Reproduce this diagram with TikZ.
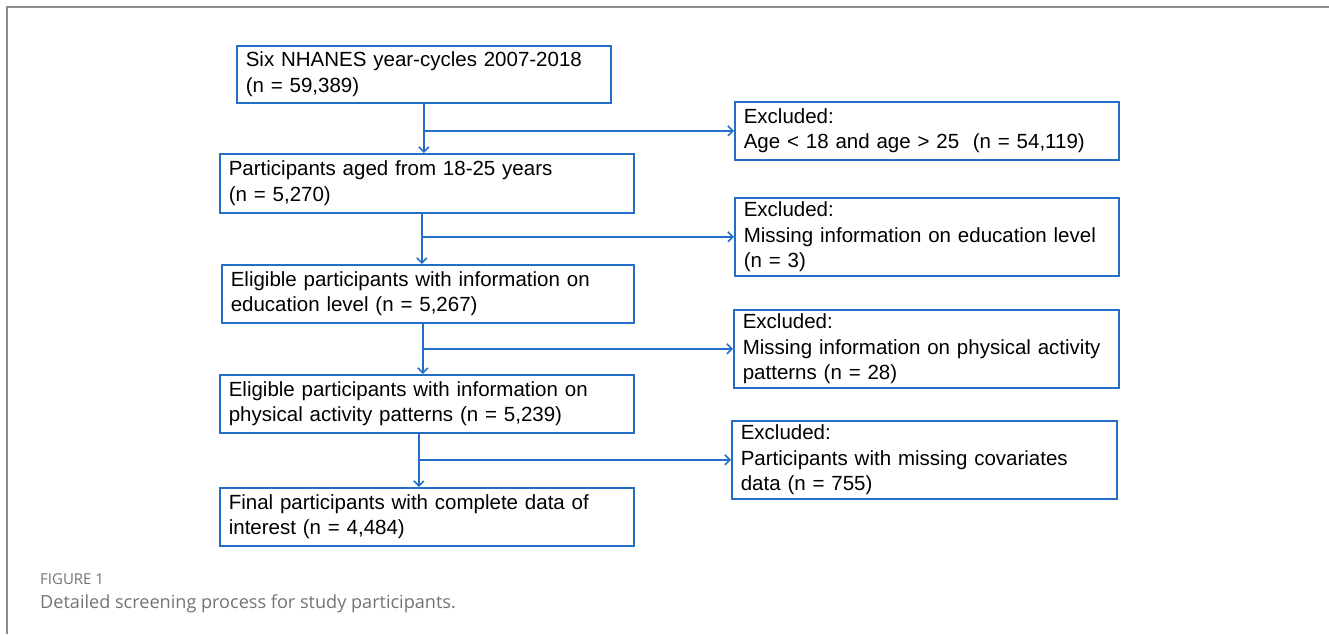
\documentclass[tikz,border=0pt]{standalone}
\usepackage{fontspec}
\setmainfont{Liberation Sans}
\newfontfamily\capfont{Open Sans}
\usepackage{tikz}
\usetikzlibrary{arrows.meta, positioning, calc}
\definecolor{FlowBlue}{RGB}{36, 110, 200}
\definecolor{FrameGray}{RGB}{140, 140, 140}
\definecolor{CapGray}{RGB}{115, 115, 115}
\tikzset{
    stage/.style={rectangle, draw=FlowBlue, line width=1.6pt, fill=white, anchor=north west, align=left,
        inner xsep=9pt, inner ysep=0pt, font=\fontsize{20.5}{25.5}\selectfont},
    arrow/.style={-{Straight Barb[length=5pt, width=10pt]}, line width=1.6pt, color=FlowBlue},
    joint/.style={line width=1.6pt, color=FlowBlue}
}

\begin{document}
\begin{tikzpicture}[x=1pt, y=-1pt]
            \useasboundingbox (0,0) rectangle (1329,634);
            \draw[FrameGray, line width=2pt] (7,634) -- (7,7) -- (1329,7);

            % main column
            \node[stage, text width=356pt, minimum height=57pt] (src) at (236,45) {Six NHANES year-cycles 2007-2018\\(n = 59,389)};
            \node[stage, text width=396pt, minimum height=59pt] (age) at (219,153) {Participants aged from 18-25 years\\(n = 5,270)};
            \node[stage, text width=394pt, minimum height=58pt] (edu) at (221,264) {Eligible participants with information on\\education level (n = 5,267)};
            \node[stage, text width=396pt, minimum height=58pt] (pa) at (219,374) {Eligible participants with information on\\physical activity patterns (n = 5,239)};
            \node[stage, text width=396pt, minimum height=58pt] (final) at (219,487) {Final participants with complete data of\\interest (n = 4,484)};

            % exclusions
            \node[stage, text width=366pt, minimum height=58pt] (exage) at (734,101) {Excluded:\\Age < 18 and age > 25~~(n = 54,119)};
            \node[stage, text width=366pt, minimum height=78pt] (exedu) at (734,197) {Excluded:\\Missing information on education level\\(n = 3)};
            \node[stage, text width=367pt, minimum height=78pt] (expa) at (733,309) {Excluded:\\Missing information on physical activity\\patterns (n = 28)};
            \node[stage, text width=367pt, minimum height=78pt] (excov) at (731,420) {Excluded:\\Participants with missing covariates\\data (n = 755)};

            \coordinate (j1) at (src.south |- exage.west);
            \coordinate (j2) at ($(age.south |- exedu.west)+(-5,0)$);
            \coordinate (j3) at ($(edu.south |- expa.west)+(-5,0)$);
            \coordinate (j4) at ($(pa.south |- excov.west)+(-8,0)$);

            \draw[joint] (src.south) -- (j1);
            \draw[arrow] (j1) -- (age.north -| j1);
            \draw[arrow] (j1) -- (exage.west);
            \draw[joint] (age.south -| j2) -- (j2);
            \draw[arrow] (j2) -- (edu.north -| j2);
            \draw[arrow] (j2) -- (exedu.west |- j2);
            \draw[joint] (edu.south -| j3) -- (j3);
            \draw[arrow] (j3) -- (pa.north -| j3);
            \draw[arrow] (j3) -- (expa.west |- j3);
            \draw[joint] (pa.south -| j4) -- (j4);
            \draw[arrow] (j4) -- (final.north -| j4);
            \draw[arrow] (j4) -- (excov.west |- j4);

            % caption
            \node[anchor=base west, inner sep=0pt, text=CapGray, font=\capfont\fontsize{15}{17}\selectfont] (figno) at (40,584) {FIGURE 1};
            \node[anchor=base west, inner sep=0pt, text=CapGray, font=\capfont\fontsize{18.1}{21}\selectfont] (figcap) at (40,608) {Detailed screening process for study participants.};
\end{tikzpicture}
\end{document}
